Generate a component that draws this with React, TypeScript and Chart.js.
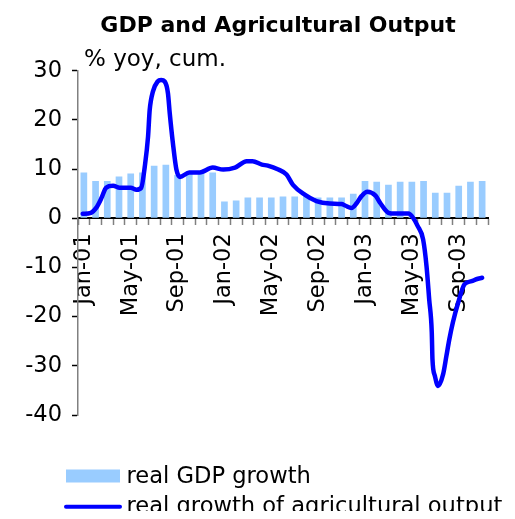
import React, { useEffect, useRef } from "react";
import { Chart, registerables } from "chart.js";

Chart.register(...registerables);

const TITLE = "GDP and Agricultural Output";
const UNIT_LABEL = "% yoy, cum.";
const GDP_LABEL = "real GDP growth";
const AGRI_LABEL = "real growth of agricultural output";

const months = [
  "Jan-01", "Feb-01", "Mar-01", "Apr-01", "May-01", "Jun-01", "Jul-01", "Aug-01", "Sep-01", "Oct-01", "Nov-01", "Dec-01",
  "Jan-02", "Feb-02", "Mar-02", "Apr-02", "May-02", "Jun-02", "Jul-02", "Aug-02", "Sep-02", "Oct-02", "Nov-02", "Dec-02",
  "Jan-03", "Feb-03", "Mar-03", "Apr-03", "May-03", "Jun-03", "Jul-03", "Aug-03", "Sep-03", "Oct-03", "Nov-03",
];

const gdpGrowth = [
  9.3, 7.6, 7.6, 8.5, 9.1, 9.3, 10.7, 10.9, 8.8, 9.1, 9.3, 9.3,
  3.4, 3.6, 4.2, 4.2, 4.2, 4.4, 4.4, 4.4, 4.2, 4.2, 4.2, 5.0,
  7.6, 7.4, 6.8, 7.4, 7.4, 7.6, 5.2, 5.2, 6.6, 7.4, 7.6,
];

// position of each agricultural reading, in months from Jan-01
const agriTime = [
  -0.1, 0.6, 1.05, 1.5, 1.9, 2.5, 3.05, 4.0, 4.5, 4.9, 5.2, 5.48, 5.62, 5.9, 6.3, 6.6, 6.9, 7.18, 7.33, 7.6, 7.9,
  8.2, 9.0, 9.9, 11.0, 11.9, 12.9, 13.9, 14.4, 15.2, 15.7, 16.6, 17.3, 17.85, 18.85, 19.85, 21.0, 22.0, 22.3,
  22.85, 23.3, 23.7, 24.2, 24.9, 25.3, 26.0, 26.5, 27.7, 28.1, 28.5, 28.96, 29.25, 29.48, 29.7, 29.76, 29.96,
  30.24, 30.67, 30.95, 31.2, 31.5, 31.95, 32.5, 33.1, 33.5, 34.0,
];
const agriGrowth = [
  0.9, 1.1, 2.1, 4.1, 6.2, 6.6, 6.2, 6.2, 5.8, 6.2, 10.5, 16.6, 22.0, 25.8, 27.8, 28.1, 27.8, 25.4, 21.4, 15.3, 9.9,
  8.4, 9.3, 9.3, 10.3, 9.9, 10.3, 11.6, 11.6, 10.9, 10.7, 9.9, 8.9, 6.8, 4.8, 3.5, 3.0, 2.9, 2.6,
  2.1, 3.1, 4.5, 5.4, 4.6, 3.1, 1.1, 0.95, 0.95, 0.1, -1.6, -4.3, -9.7, -16.5, -23.2, -28.7, -32.0,
  -34.1, -31.7, -28.0, -24.6, -21.2, -17.2, -13.4, -12.8, -12.4, -12.1,
];

const yTicks = [30, 20, 10, 0, -10, -20, -30, -40];

const FONT = '"DejaVu Sans", Verdana, sans-serif';

const decorPlugin = {
  id: "decor",
  afterDraw(chart: any) {
    const ctx = chart.ctx as CanvasRenderingContext2D;
    const ds = chart.data.datasets;
    ctx.save();
    ctx.fillStyle = "#000";
    ctx.textBaseline = "alphabetic";
    ctx.font = `bold 22px ${FONT}`;
    ctx.textAlign = "center";
    ctx.fillText(TITLE, 270, 24);
    ctx.font = `23px ${FONT}`;
    ctx.textAlign = "left";
    ctx.fillText(UNIT_LABEL, 76, 58);

    // legend
    ctx.fillStyle = ds[0].backgroundColor;
    ctx.fillRect(58, 461.5, 54, 13);
    ctx.strokeStyle = ds[1].borderColor;
    ctx.lineWidth = 4;
    ctx.lineCap = "round";
    ctx.beginPath();
    ctx.moveTo(58, 498.7);
    ctx.lineTo(112, 498.7);
    ctx.stroke();
    ctx.fillStyle = "#000";
    ctx.font = `22.6px ${FONT}`;
    ctx.fillText(ds[0].label, 118.5, 475);
    ctx.fillText(ds[1].label, 118.5, 505.3);
    ctx.restore();
  },
};

export default function App() {
  const ref = useRef<HTMLCanvasElement>(null);

  useEffect(() => {
    if (!ref.current) return;
    const chart = new Chart(ref.current, {
      type: "line",
      data: {
        labels: months,
        datasets: [
          {
            type: "bar",
            label: GDP_LABEL,
            data: gdpGrowth,
            backgroundColor: "#99CCFF",
            borderWidth: 0,
            barPercentage: 0.57,
            categoryPercentage: 1,
            grouped: false,
            xAxisID: "x",
            yAxisID: "y",
            order: 2,
          } as any,
          {
            type: "line",
            label: AGRI_LABEL,
            data: agriTime.map((t, i) => ({ x: t, y: agriGrowth[i] })),
            borderColor: "#0000FF",
            backgroundColor: "#0000FF",
            borderWidth: 4.5,
            pointRadius: 0,
            cubicInterpolationMode: "monotone",
            borderCapStyle: "round",
            borderJoinStyle: "round",
            fill: false,
            xAxisID: "xl",
            yAxisID: "y",
            order: 1,
          } as any,
        ],
      },
      options: {
        responsive: false,
        animation: false,
        devicePixelRatio: 1,
        layout: { padding: { left: 0, right: 19, top: 62.7, bottom: 104 } },
        plugins: {
          legend: { display: false },
          title: { display: false },
          tooltip: { enabled: false },
        },
        scales: {
          x: {
            type: "category",
            position: { y: 0 } as any,
            offset: true,
            afterFit: (s: any) => {
              s.paddingLeft = 0;
              s.paddingRight = 0;
            },
            grid: {
              offset: true,
              drawOnChartArea: false,
              drawTicks: true,
              tickLength: 6,
              tickWidth: 1.5,
              tickColor: "#808080",
            },
            border: { display: true, color: "#000", width: 2 },
            ticks: {
              autoSkip: false,
              minRotation: 90,
              maxRotation: 90,
              padding: 9,
              color: "#000",
              font: { family: FONT, size: 22.5 },
              callback: (_v: any, i: number) => (i % 4 === 0 ? months[i] : ""),
            },
          },
          xl: {
            type: "linear",
            display: false,
            offset: false,
            grid: { offset: false },
            min: -0.5,
            max: months.length - 0.5,
          },
          y: {
            type: "linear",
            min: -40,
            max: 30,
            afterFit: (s: any) => {
              s.width = 70;
            },
            afterBuildTicks: (s: any) => {
              s.ticks = yTicks.slice().reverse().map((v) => ({ value: v }));
            },
            grid: {
              drawOnChartArea: false,
              drawTicks: true,
              tickLength: 6,
              tickWidth: 1.5,
              tickColor: "#000",
            },
            border: { display: true, color: "#808080", width: 1.5 },
            ticks: {
              padding: 10,
              color: "#000",
              font: { family: FONT, size: 22.5 },
            },
          },
        },
      },
      plugins: [decorPlugin],
    });
    return () => chart.destroy();
  }, []);

  return (
    <canvas
      ref={ref}
      width={499}
      height={511}
      style={{ display: "block", marginBottom: -8 }}
    />
  );
}
